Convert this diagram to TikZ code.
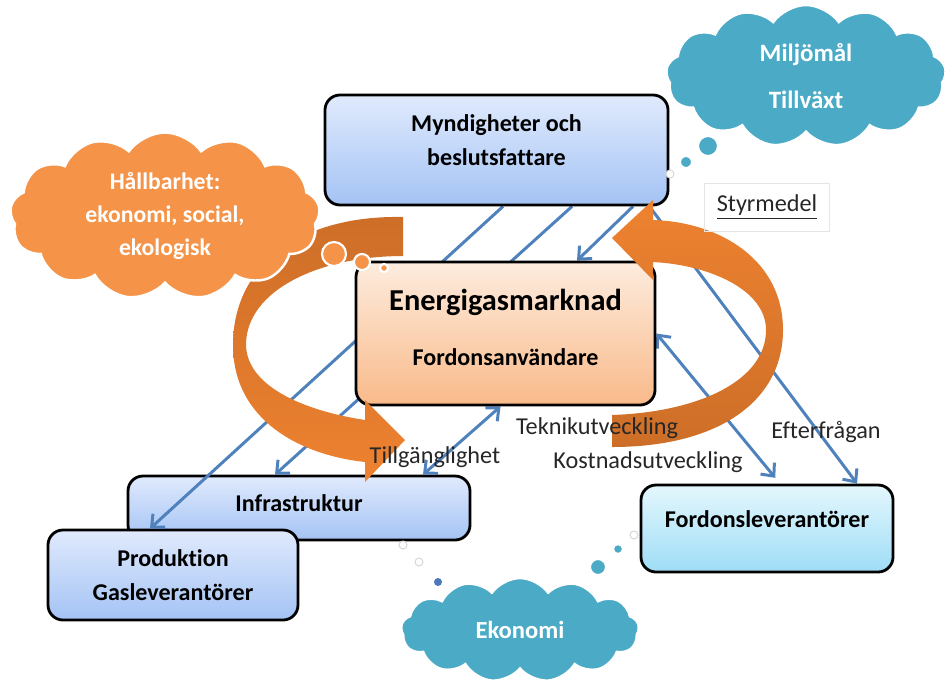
\documentclass[tikz,border=0pt]{standalone}
\usepackage{fontspec}
\setmainfont{Carlito}[Ligatures=NoCommon]
\usetikzlibrary{arrows.meta,shapes.symbols,backgrounds,calc}
\definecolor{linkblue}{RGB}{79,129,189}
\definecolor{ringbright}{RGB}{238,130,48}
\definecolor{ringdark}{RGB}{205,110,40}
\definecolor{cloudorange}{RGB}{245,148,72}
\definecolor{cloudteal}{RGB}{75,170,197}
\definecolor{bubbleblue}{RGB}{74,120,184}
\definecolor{boxbluetop}{RGB}{224,234,253}
\definecolor{boxbluebot}{RGB}{164,195,244}
\definecolor{boxpeachtop}{RGB}{253,236,222}
\definecolor{boxpeachbot}{RGB}{249,186,138}
\definecolor{boxcyantop}{RGB}{228,247,253}
\definecolor{boxcyanbot}{RGB}{158,221,246}

\begin{document}
\begin{tikzpicture}[x=0.2mm, y=-0.2mm, >={Straight Barb[length=2mm,width=3.6mm]},
  box/.style={draw=black, line width=1.6pt, rounded corners=3mm, align=center,
    font=\bfseries\fontsize{13.7}{19}\selectfont},
  bluebox/.style={box, top color=boxbluetop, bottom color=boxbluebot},
  link/.style={draw=linkblue, line width=1.7pt},
  thought/.style={cloud, cloud puffs=13, cloud puff arc=110, cloud ignores aspect,
    draw=white, line width=1.4pt, text=white, align=center,
    font=\bfseries\fontsize{13.5}{19}\selectfont},
  lbl/.style={font=\fontsize{13.8}{16}\selectfont, text=black!85}]
  \useasboundingbox (0,0) rectangle (947,683);

  % main boxes
  \node[bluebox, minimum width=68.6mm, minimum height=22mm, text depth=4mm] (myn) at (496.5,150) {Myndigheter och\\beslutsfattare};
  \node[box, top color=boxpeachtop, bottom color=boxpeachbot, minimum width=59.8mm, minimum height=28.6mm,
    text depth=2.4mm, font=\bfseries\fontsize{13.7}{31}\selectfont] (energi) at (505.5,333.5)
    {{\fontsize{17.3}{31}\selectfont Energigasmarknad}\\Fordonsanvändare};
  \node[box, top color=boxcyantop, bottom color=boxcyanbot, minimum width=50.4mm, minimum height=17.4mm,
    text depth=3.6mm] (ford) at (767,528.5) {Fordonsleverantörer};

  % suppliers and links behind the market box
  \begin{scope}[on background layer]
    \node[bluebox, minimum width=68.4mm, minimum height=12.8mm, text depth=2mm] (infra) at (299,508) {Infrastruktur};
    \node[bluebox, minimum width=50mm, minimum height=18mm] (prod) at (173,575) {Produktion\\Gasleverantörer};
    \draw[link, ->] ([xshift=1.3mm]myn.south) -- ([xshift=-4.6mm]prod.north);
    \draw[link, ->] ([xshift=15.1mm]myn.south) -- ([xshift=-4.8mm]infra.north);
    \draw[link, ->] ([xshift=27.3mm]myn.south) -- ([xshift=14.3mm]energi.north);
    \draw[link, <->, shorten >=1.5mm] (energi.east) -- ([xshift=2.6mm]ford.north);
    \draw[link, ->] ([xshift=-4mm]myn.south east) -- ([xshift=18mm]ford.north);
    \draw[link, <->] ([xshift=-1mm]energi.south) -- ([xshift=24.8mm]infra.north);
  \end{scope}

  % circular arrows
  \path[top color=ringdark, bottom color=ringbright] (403,217) .. controls (300,215) and (233,265) .. (233,345)
    .. controls (233,420) and (300,455) .. (365,462) -- (365,482) -- (405,440) -- (365,400) -- (365,420)
    .. controls (300,410) and (247,385) .. (246,345) .. controls (246,290) and (320,256) .. (403,256) -- cycle;
  \path[top color=ringbright, bottom color=ringdark] (612,447) .. controls (720,447) and (783,400) .. (783,330)
    .. controls (783,260) and (720,222) .. (653,220) -- (653,200) -- (612,238) -- (653,280) -- (653,262)
    .. controls (710,265) and (766,290) .. (766,330) .. controls (766,380) and (700,412) .. (612,415) -- cycle;

  % thought clouds
  \node[thought, fill=cloudorange, minimum width=62mm, minimum height=30.4mm] (hall) at (165,216)
    {Hållbarhet:\\ekonomi, social,\\ekologisk};
  \node[thought, fill=cloudteal, minimum width=56mm, minimum height=28.4mm,
    font=\bfseries\fontsize{14.2}{27}\selectfont] (miljo) at (806,76) {Miljömål\\Tillväxt};
  \node[thought, fill=cloudteal, minimum width=47.6mm, minimum height=20.8mm,
    font=\bfseries\fontsize{14}{19}\selectfont] (eko) at (520,630) {Ekonomi};
  \foreach \cx/\cy/\r in {334/254/12, 362/262/8, 384/268/4}
    \filldraw[fill=cloudorange, draw=white, line width=1.2pt] (\cx,\cy) circle (\r);
  \foreach \cx/\cy/\r in {708/146/10, 686/162/6, 598/567/8, 618/549/5}
    \filldraw[fill=cloudteal, draw=white, line width=1.2pt] (\cx,\cy) circle (\r);
  \foreach \cx/\cy in {670/174, 634/535, 403/545, 419/562}
    \filldraw[fill=white, draw=black!15, line width=0.6pt] (\cx,\cy) circle (4);
  \fill[bubbleblue] (438,582) circle (4);

  % labels
  \node[lbl, draw=black!10, minimum width=25mm, minimum height=9.6mm] (styr) at (767,207) {\underline{Styrmedel}};
  \node[lbl] (tillg) at (435,457) {Tillgänglighet};
  \node[lbl] (teknik) at (597,428) {Teknikutveckling};
  \node[lbl] (kostn) at (648,462) {Kostnadsutveckling};
  \node[lbl] (efter) at (826,432) {Efterfrågan};
\end{tikzpicture}
\end{document}
